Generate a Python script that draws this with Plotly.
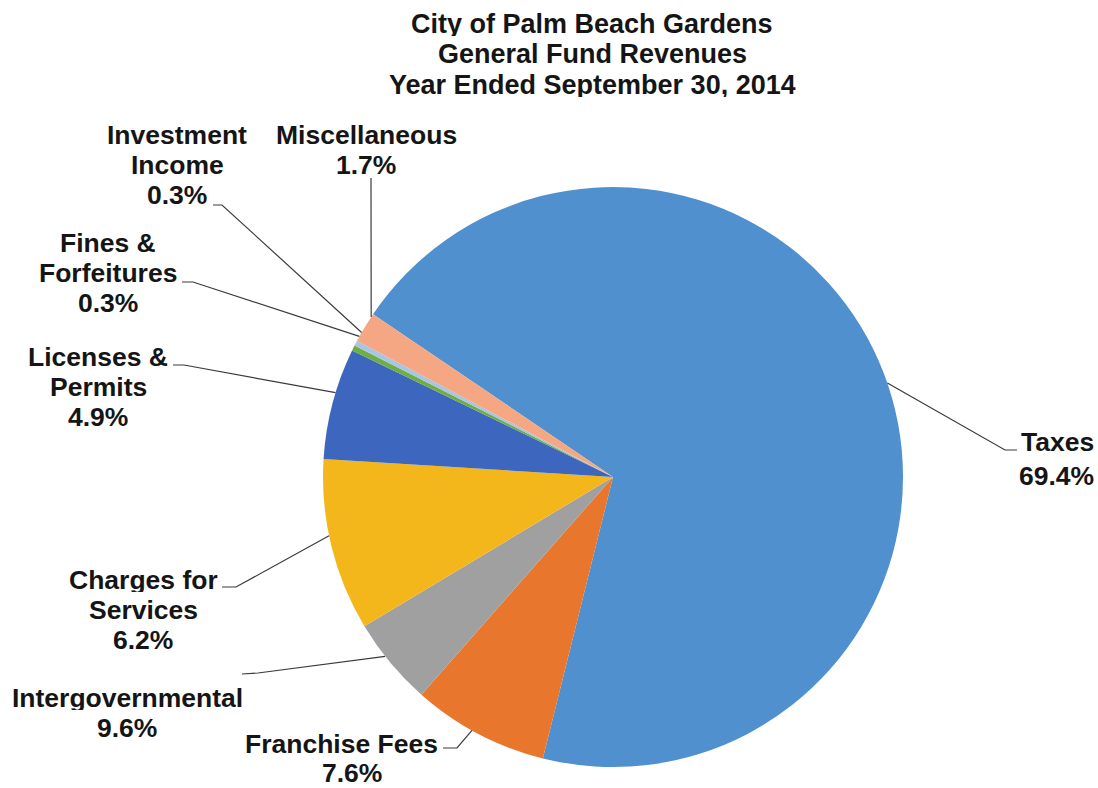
import math
import textwrap
import plotly.graph_objects as go

# ---------------- data ----------------
categories = ["Taxes", "Franchise Fees", "Licenses & Permits", "Intergovernmental",
              "Charges for Services", "Fines & Forfeitures", "Investment Income", "Miscellaneous"]
values = [69.4, 7.6, 4.9, 9.6, 6.2, 0.3, 0.3, 1.7]
title_lines = ["City of Palm Beach Gardens", "General Fund Revenues", "Year Ended September 30, 2014"]

# ---------------- styles / layout ----------------
colors = ["#5090CE", "#E8762C", "#A0A0A0", "#F3B71C", "#3D66BF", "#6DAE45", "#A9C4E4", "#F5A683"]
W, H = 1098, 788                    # figure size (page margin removed below)
CX, CY, R = 613, 477, 290           # pie centre / radius in screen pixels
FONT = dict(family="Liberation Sans, Arial, sans-serif", size=26.5, color="#151515", weight="bold")
TFONT = dict(FONT, size=27)
LINE_GAP = 30
BOX_H = 24                          # annotation box height (text centred in it)

# label placement (px): anchor x, first line centre y, wrap width, xanchor
label_pos = {
    "Taxes": (1019, 442, 10, "left"),
    "Franchise Fees": (341, 744, 20, "center"),
    "Intergovernmental": (127, 698, 20, "center"),
    "Charges for Services": (143, 580, 11, "center"),
    "Licenses & Permits": (98, 357, 10, "center"),
    "Fines & Forfeitures": (108, 243, 11, "center"),
    "Investment Income": (177, 135, 10, "center"),
    "Miscellaneous": (366, 135, 20, "center"),
}
# per-label tweaks of the value line: (dx, y offset from first line)
value_line = {
    "Taxes": (-2, 34),
    "Franchise Fees": (11, 29),
}
# leader lines: text end point, elbow point, angle on the rim (deg, math convention)
leaders = {
    "Taxes": ((1017, 450), (1005, 450), 18.9),
    "Franchise Fees": ((443, 748), (457, 748), 240.9),
    "Intergovernmental": ((242, 674), (258, 673), 218.2),
    "Charges for Services": ((222, 587), (236, 587), 191.7),
    "Licenses & Permits": ((173, 365), (184, 365), 163.1),
    "Fines & Forfeitures": ((182, 282), (193, 282), 151.0),
    "Investment Income": ((213, 205), (222, 205), 150.1),
    "Miscellaneous": ((371, 178), (371, 180), 146.5),
}


def px(x):
    return x / W


def py(y):
    return 1 - y / H


fig = go.Figure()
fig.add_trace(go.Pie(
    labels=categories,
    values=values,
    sort=False,
    direction="clockwise",
    rotation=-(145.84 - 90),
    marker=dict(colors=colors, line=dict(width=0)),
    textinfo="none",
    hoverinfo="label+percent",
    showlegend=False,
    domain=dict(x=[px(CX - R), px(CX + R)], y=[py(CY + R), py(CY - R)]),
))

annotations = []
# title
for i, line in enumerate(title_lines):
    annotations.append(dict(
        text=line, x=px(592), y=py(24 + i * 30.5), xref="paper", yref="paper",
        xanchor="center", yanchor="middle", showarrow=False, font=TFONT,
        height=BOX_H, valign="middle"))

# data labels
for cat, val in zip(categories, values):
    x0, y0, wrap, xa = label_pos[cat]
    lines = textwrap.wrap(cat, wrap) + [f"{val:.1f}%"]
    ys = [y0 + k * LINE_GAP for k in range(len(lines))]
    xs = [x0] * len(lines)
    if cat in value_line:
        dx, dy = value_line[cat]
        xs[-1] = x0 + dx
        ys[-1] = y0 + dy
    for line, xx, yy in zip(lines, xs, ys):
        annotations.append(dict(
            text=line, x=px(xx), y=py(yy), xref="paper", yref="paper",
            xanchor=xa, yanchor="middle", showarrow=False, font=FONT,
            height=BOX_H, valign="middle"))

shapes = []
for cat in categories:
    (sx, sy), (ex, ey), ang = leaders[cat]
    tx = CX + R * math.cos(math.radians(ang))
    ty = CY - R * math.sin(math.radians(ang))
    path = f"M {px(sx)} {py(sy)} L {px(ex)} {py(ey)} L {px(tx)} {py(ty)}"
    shapes.append(dict(type="path", path=path, xref="paper", yref="paper",
                       line=dict(color="#3a3a3a", width=1.2)))

fig.update_layout(
    width=W, height=H,
    margin=dict(l=0, r=0, t=0, b=0),
    paper_bgcolor="white",
    plot_bgcolor="white",
    annotations=annotations,
    shapes=shapes,
)

fig.write_html(
    "out.html",
    config={"displayModeBar": False},
    post_script="document.body.style.margin='0';document.body.style.overflow='hidden';",
)
